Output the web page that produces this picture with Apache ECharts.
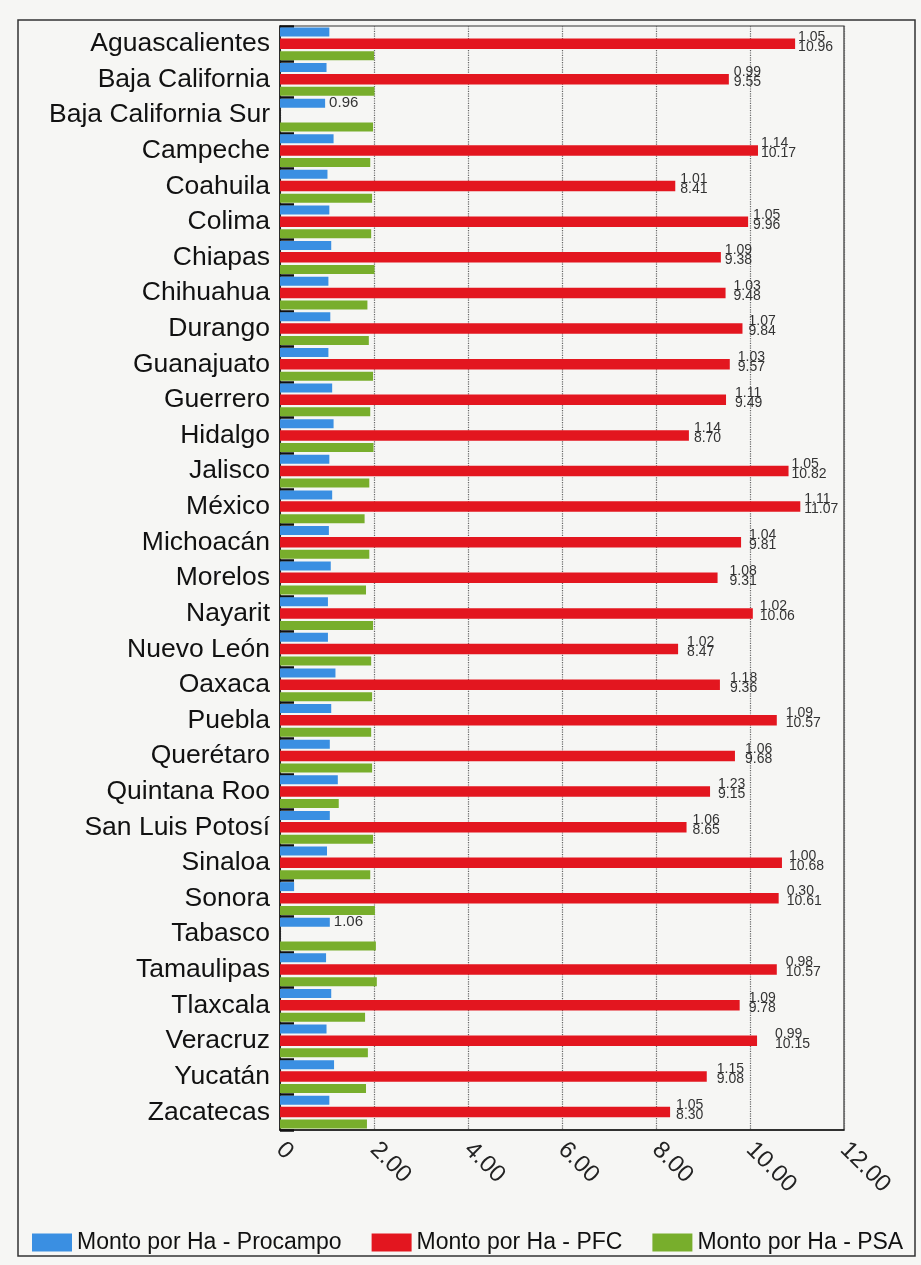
<!DOCTYPE html>
<html>
<head>
<meta charset="utf-8">
<script src="https://cdn.jsdelivr.net/npm/echarts@6/dist/echarts.min.js"></script>
<style>
  html, body { margin: 0; padding: 0; background: #f6f6f4; }
  #chart { width: 921px; height: 1265px; }
</style>
</head>
<body>
<div id="chart"></div>
<script>
// Monto por hectárea por estado: Procampo, PFC y PSA
const estados = [
  'Aguascalientes', 'Baja California', 'Baja California Sur', 'Campeche', 'Coahuila',
  'Colima', 'Chiapas', 'Chihuahua', 'Durango', 'Guanajuato', 'Guerrero', 'Hidalgo',
  'Jalisco', 'México', 'Michoacán', 'Morelos', 'Nayarit', 'Nuevo León', 'Oaxaca',
  'Puebla', 'Querétaro', 'Quintana Roo', 'San Luis Potosí', 'Sinaloa', 'Sonora',
  'Tabasco', 'Tamaulipas', 'Tlaxcala', 'Veracruz', 'Yucatán', 'Zacatecas'
];
const procampo = [
  1.05, 0.99, 0.96, 1.14, 1.01, 1.05, 1.09, 1.03, 1.07, 1.03, 1.11, 1.14,
  1.05, 1.11, 1.04, 1.08, 1.02, 1.02, 1.18, 1.09, 1.06, 1.23, 1.06, 1.00, 0.30,
  1.06, 0.98, 1.09, 0.99, 1.15, 1.05
];
const pfc = [
  10.96, 9.55, null, 10.17, 8.41, 9.96, 9.38, 9.48, 9.84, 9.57, 9.49, 8.70,
  10.82, 11.07, 9.81, 9.31, 10.06, 8.47, 9.36, 10.57, 9.68, 9.15, 8.65, 10.68, 10.61,
  null, 10.57, 9.78, 10.15, 9.08, 8.30
];
const psa = [
  2.00, 2.01, 1.98, 1.92, 1.96, 1.94, 2.01, 1.86, 1.89, 1.98, 1.92, 1.99,
  1.90, 1.80, 1.90, 1.83, 1.98, 1.94, 1.96, 1.94, 1.96, 1.25, 1.98, 1.92, 2.02,
  2.04, 2.06, 1.81, 1.87, 1.83, 1.85
];
const tickLabels = ['0', '2.00', '4.00', '6.00', '8.00', '10.00', '12.00'];
const seriesNames = ['Monto por Ha - Procampo', 'Monto por Ha - PFC', 'Monto por Ha - PSA'];

// extra horizontal push (px) for the paired value labels
const labelNudge = [
  0, 2, 0, 0, 2, 2, 1, 5, 3, 5, 6, 2, 0, 1, 5, 9, 4, 6, 7, 6, 7, 5, 3, 4, 5,
  0, 6, 6, 15, 7, 3
];

const numFont = "'Liberation Sans Narrow', 'Liberation Sans', Arial, sans-serif";
const textFont = "'Liberation Sans', Arial, Helvetica, sans-serif";

const chart = echarts.init(document.getElementById('chart'), null, { renderer: 'canvas' });

const procampoData = procampo.map((v, i) => {
  if (pfc[i] == null) {
    return {
      value: v,
      label: {
        show: true, position: 'right', distance: 4,
        formatter: () => v.toFixed(2),
        fontFamily: textFont, fontSize: 15, color: '#333'
      }
    };
  }
  return v;
});

const pfcData = pfc.map((v, i) => {
  if (v == null) return null;
  return {
    value: v,
    label: {
      show: true, position: 'right', distance: 3,
      offset: [labelNudge[i], -2],
      formatter: () => '{t|' + procampo[i].toFixed(2) + '}\n{b|' + v.toFixed(2) + '}',
      rich: {
        t: { fontFamily: numFont, fontSize: 14, lineHeight: 10, color: '#333' },
        b: { fontFamily: numFont, fontSize: 14, lineHeight: 10, color: '#333' }
      }
    }
  };
});

const option = {
  backgroundColor: '#f6f6f4',
  animation: false,
  grid: {
    left: 280, right: 77, top: 26, bottom: 135,
    show: true, borderColor: '#333', borderWidth: 1.2, backgroundColor: 'transparent'
  },
  legend: {
    data: seriesNames,
    left: 27, top: 1226,
    itemWidth: 40, itemHeight: 18, itemGap: 30,
    icon: 'rect',
    textStyle: { fontFamily: textFont, fontSize: 23, color: '#111' }
  },
  xAxis: {
    type: 'value', min: 0, max: 12, interval: 2,
    axisLine: { show: true, lineStyle: { color: '#111', width: 1.5 } },
    axisTick: { show: false },
    splitLine: { show: true, lineStyle: { type: 'dotted', color: '#666', width: 1.2 } },
    axisLabel: {
      rotate: -45, margin: 16,
      fontFamily: textFont, fontSize: 24, color: '#222',
      formatter: (val) => tickLabels[Math.round(val / 2)]
    }
  },
  yAxis: {
    type: 'category', inverse: true, data: estados,
    axisLine: { show: true, lineStyle: { color: '#111', width: 1.5 } },
    axisTick: { show: true, inside: true, length: 14, lineStyle: { color: '#111', width: 2.5 } },
    splitLine: { show: false },
    axisLabel: { fontFamily: textFont, fontSize: 26.5, color: '#111', margin: 10 }
  },
  series: [
    {
      name: seriesNames[0], type: 'bar', data: procampoData,
      barWidth: 9, barGap: '22%',
      itemStyle: { color: '#3a8fe2' }
    },
    {
      name: seriesNames[1], type: 'bar', data: pfcData,
      barWidth: 10.5, barGap: '22%',
      itemStyle: { color: '#e3161f' }
    },
    {
      name: seriesNames[2], type: 'bar', data: psa,
      barWidth: 9, barGap: '22%',
      itemStyle: { color: '#78ae2c' }
    }
  ],
  graphic: [
    {
      type: 'rect', silent: true, z: 100,
      shape: { x: 18, y: 20, width: 897, height: 1236 },
      style: { fill: 'none', stroke: '#333', lineWidth: 1.5 }
    }
  ]
};

chart.setOption(option);
</script>
</body>
</html>
